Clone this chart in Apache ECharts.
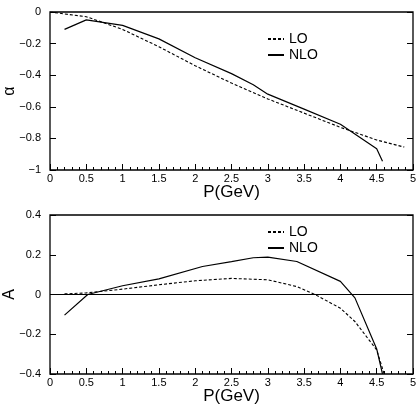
<!DOCTYPE html>
<html><head><meta charset="utf-8">
<script src="https://cdn.jsdelivr.net/npm/echarts@6/dist/echarts.min.js"></script>
<style>html,body{margin:0;padding:0;background:#fff}#c{width:416px;height:407px}</style>
</head><body><div id="c"></div>
<script>
// Top panel: alpha vs P
const alphaLO_P   = [0, 0.5, 1, 1.5, 2, 2.5, 3, 3.5, 4, 4.5, 4.88];
const alphaLO     = [0, -0.03, -0.11, -0.22, -0.34, -0.45, -0.55, -0.64, -0.73, -0.81, -0.855];
const alphaNLO_P  = [0.2, 0.5, 1, 1.5, 2, 2.5, 2.8, 3, 3.5, 4, 4.5, 4.58];
const alphaNLO    = [-0.11, -0.05, -0.085, -0.17, -0.29, -0.39, -0.46, -0.52, -0.615, -0.71, -0.865, -0.945];
// Bottom panel: A vs P
const aLO_P   = [0.2, 0.5, 1, 1.5, 2, 2.5, 3, 3.4, 3.65, 4, 4.2, 4.5, 4.62];
const aLO     = [0.003, 0.008, 0.027, 0.049, 0.069, 0.081, 0.074, 0.04, 0, -0.069, -0.136, -0.279, -0.42];
const aNLO_P  = [0.2, 0.52, 1, 1.5, 2.1, 2.5, 2.8, 3, 3.4, 4, 4.2, 4.5, 4.58];
const aNLO    = [-0.104, 0, 0.044, 0.079, 0.141, 0.165, 0.185, 0.188, 0.166, 0.066, -0.017, -0.274, -0.40];
// Axis ticks
const xTicks = {min: 0, max: 5, interval: 0.5};
const alphaTicks = {min: -1, max: 0, interval: 0.2};
const aTicks = {min: -0.4, max: 0.4, interval: 0.2};

const pair = (xs, ys) => xs.map((x, i) => [x, ys[i]]);
const FONT = 'Liberation Sans';
const fmt = v => { let s = String(+v.toFixed(2)); return s.replace('-', '\u2212'); };

function xAxis(gi) {
  return {
    type: 'value', gridIndex: gi, min: xTicks.min, max: xTicks.max, interval: xTicks.interval,
    position: 'bottom',
    name: 'P(GeV)', nameLocation: 'middle', nameGap: 14, nameMoveOverlap: false,
    nameTextStyle: {fontFamily: FONT, fontSize: 17, color: '#000'},
    axisLine: {show: false, onZero: false},
    axisTick: {show: true, inside: true, length: 6, lineStyle: {color: '#000', width: 1}},
    minorTick: {show: true, splitNumber: 5, length: 3, lineStyle: {color: '#000', width: 1}},
    splitLine: {show: false},
    axisLabel: {fontFamily: FONT, fontSize: 11, color: '#000', margin: 3, formatter: fmt}
  };
}
function yAxes(gi, t, name) {
  return [{
    type: 'value', gridIndex: gi, min: t.min, max: t.max, interval: t.interval,
    position: 'left',
    name: name, nameLocation: 'middle', nameGap: 32, nameRotate: 90, nameMoveOverlap: false,
    nameTextStyle: {fontFamily: FONT, fontSize: 16, color: '#000'},
    axisLine: {show: false, onZero: false},
    axisTick: {show: true, inside: true, length: 6, lineStyle: {color: '#000', width: 1}},
    splitLine: {show: false},
    axisLabel: {fontFamily: FONT, fontSize: 11, color: '#000', margin: 9, formatter: fmt}
  }, {
    type: 'value', gridIndex: gi, position: 'right', min: t.min, max: t.max, interval: t.interval,
    axisLine: {show: false, onZero: false},
    axisTick: {show: true, inside: true, length: 6, lineStyle: {color: '#000', width: 1}},
    splitLine: {show: false}, axisLabel: {show: false}
  }];
}
const dashed = {color: '#000', width: 1.1, type: [3, 2]};
const solid = {color: '#000', width: 1.2, type: 'solid'};

const ya = yAxes(0, alphaTicks, '\u03b1');
const yb = yAxes(1, aTicks, 'A');

const legendBase = {orient: 'vertical', left: 262, itemWidth: 16, itemHeight: 10, itemGap: 2,
  data: ['LO', 'NLO'], textStyle: {fontFamily: FONT, fontSize: 14, color: '#000'},
  selectedMode: false, itemStyle: {opacity: 0, borderWidth: 0}};

const gridBase = {left: 50, right: 3, show: true, borderColor: '#000', borderWidth: 1.3,
  backgroundColor: 'transparent', containLabel: false, outerBoundsMode: 'none'};

const option = {
  animation: false,
  backgroundColor: '#fff',
  grid: [
    Object.assign({}, gridBase, {top: 12, height: 158}),
    Object.assign({}, gridBase, {top: 215, height: 159})
  ],
  xAxis: [xAxis(0), xAxis(1)],
  yAxis: [ya[0], ya[1], yb[0], yb[1]],
  legend: [
    Object.assign({}, legendBase, {top: 27}),
    Object.assign({}, legendBase, {top: 220})
  ],
  series: [
    {name: 'LO', type: 'line', xAxisIndex: 0, yAxisIndex: 0, data: pair(alphaLO_P, alphaLO),
     showSymbol: false, symbol: 'none', lineStyle: dashed, itemStyle: {color: '#000'}},
    {name: 'NLO', type: 'line', xAxisIndex: 0, yAxisIndex: 0, data: pair(alphaNLO_P, alphaNLO),
     showSymbol: false, symbol: 'none', lineStyle: solid, itemStyle: {color: '#000'}},
    {name: 'LO', type: 'line', xAxisIndex: 1, yAxisIndex: 2, data: pair(aLO_P, aLO),
     showSymbol: false, symbol: 'none', lineStyle: dashed, itemStyle: {color: '#000'}, clip: true},
    {name: 'NLO', type: 'line', xAxisIndex: 1, yAxisIndex: 2, data: pair(aNLO_P, aNLO),
     showSymbol: false, symbol: 'none', lineStyle: solid, itemStyle: {color: '#000'}, clip: true,
     markLine: {silent: true, symbol: 'none', label: {show: false},
       lineStyle: {color: '#000', width: 1.2, type: 'solid'}, data: [{yAxis: 0}]}}
  ]
};
const chart = echarts.init(document.getElementById('c'), null, {renderer: 'canvas'});
chart.setOption(option);
</script></body></html>
